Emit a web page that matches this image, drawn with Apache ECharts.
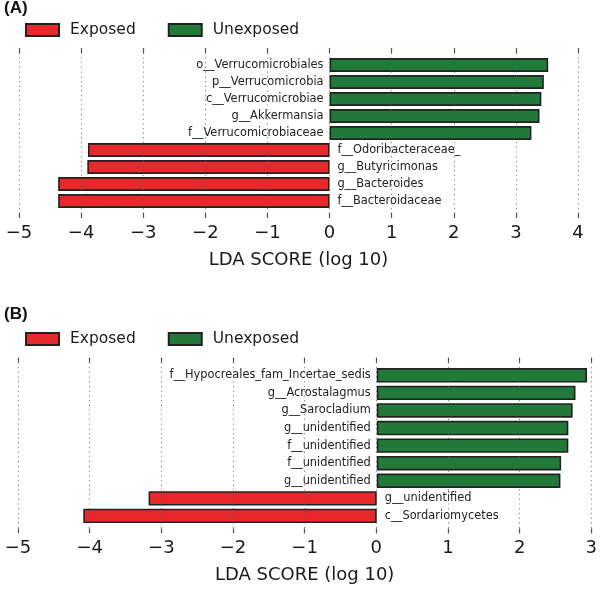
<!DOCTYPE html>
<html>
<head>
<meta charset="utf-8">
<script src="https://cdn.jsdelivr.net/npm/echarts@6/dist/echarts.min.js"></script>
<style>
html,body{margin:0;padding:0;background:#fff;}
#chart{width:600px;height:590px;}
</style>
</head>
<body>
<div id="chart"></div>
<script>
// ---- Data ----
const seriesNames = ['Exposed', 'Unexposed'];

const catA = ['o__Verrucomicrobiales', 'p__Verrucomicrobia', 'c__Verrucomicrobiae', 'g__Akkermansia',
  'f__Verrucomicrobiaceae', 'f__Odoribacteraceae_', 'g__Butyricimonas', 'g__Bacteroides', 'f__Bacteroidaceae'];
const exposedA = ['-', '-', '-', '-', '-', -3.89, -3.90, -4.37, -4.37];
const unexposedA = [3.52, 3.45, 3.41, 3.38, 3.25, '-', '-', '-', '-'];
const ticksA = { min: -5, max: 4, interval: 1 };

const catB = ['f__Hypocreales_fam_Incertae_sedis', 'g__Acrostalagmus', 'g__Sarocladium', 'g__unidentified',
  'f__unidentified', 'f__unidentified', 'g__unidentified', 'g__unidentified', 'c__Sordariomycetes'];
const exposedB = ['-', '-', '-', '-', '-', '-', '-', -3.18, -4.09];
const unexposedB = [2.93, 2.77, 2.73, 2.67, 2.67, 2.57, 2.56, '-', '-'];
const ticksB = { min: -5, max: 3, interval: 1 };

const panelTitles = ['(A)', '(B)'];
const axisName = 'LDA SCORE (log 10)';

// ---- Styles ----
const RED = '#e8292b';
const GREEN = '#21793a';
const BORDER = '#222222';
const FONT = 'DejaVu Sans';

const chart = echarts.init(document.getElementById('chart'), null, { renderer: 'canvas' });

function minusFmt(v) { return String(v).replace('-', '\u2212'); }

const panels = [
  { cats: catA, exp: exposedA, unexp: unexposedA, ticks: ticksA,
    left: 19, right: 22, frameTop: 48, frameH: 170, barTop: 56.5, barH: 153, legendTop: 22, titleTop: 0 },
  { cats: catB, exp: exposedB, unexp: unexposedB, ticks: ticksB,
    left: 18, right: 8, frameTop: 357.7, frameH: 175.6, barTop: 366.5, barH: 158.2, legendTop: 331, titleTop: 306 }
];

const grid = [], xAxis = [], yAxis = [], series = [], legend = [], title = [];

panels.forEach((p, i) => {
  const gFrame = grid.length;
  grid.push({ left: p.left, right: p.right, top: p.frameTop, height: p.frameH, containLabel: false });
  const gBars = grid.length;
  grid.push({ left: p.left, right: p.right, top: p.barTop, height: p.barH, containLabel: false });

  // frame: bottom axis with labels + dotted grid lines
  xAxis.push({
    type: 'value', gridIndex: gFrame, position: 'bottom', min: p.ticks.min, max: p.ticks.max, interval: p.ticks.interval,
    z: 5,
    axisLine: { show: false },
    axisTick: { show: true, inside: true, length: 5, lineStyle: { color: '#555', width: 1.2 } },
    axisLabel: { show: true, margin: 6, fontFamily: FONT, fontSize: 18, color: '#1a1a1a', formatter: minusFmt },
    splitLine: { show: true, lineStyle: { color: 'rgba(95,95,95,0.75)', type: [1.2, 3.5], width: 1.1 } },
    name: axisName, nameLocation: 'middle', nameGap: 33,
    nameTextStyle: { fontFamily: FONT, fontSize: 18, color: '#1a1a1a' }
  });
  // frame: top ticks
  xAxis.push({
    type: 'value', gridIndex: gFrame, position: 'top', min: p.ticks.min, max: p.ticks.max, interval: p.ticks.interval,
    z: 5,
    axisLine: { show: false },
    axisTick: { show: true, inside: true, length: 5, lineStyle: { color: '#555', width: 1.2 } },
    axisLabel: { show: false }, splitLine: { show: false }
  });
  yAxis.push({ type: 'value', gridIndex: gFrame, min: 0, max: 1, show: false });

  // bars grid
  const xBar = xAxis.length;
  xAxis.push({ type: 'value', gridIndex: gBars, min: p.ticks.min, max: p.ticks.max, interval: p.ticks.interval, show: false,
    splitLine: { show: false } });
  const yBar = yAxis.length;
  yAxis.push({ type: 'category', gridIndex: gBars, data: p.cats.map((c, k) => k), inverse: true, show: false,
    axisTick: { show: false }, axisLine: { show: false } });

  const cats = p.cats;
  series.push({
    name: seriesNames[0], type: 'bar', xAxisIndex: xBar, yAxisIndex: yBar, data: p.exp,
    barCategoryGap: '18%', barGap: '-100%',
    itemStyle: { color: RED, borderColor: BORDER, borderWidth: 1.6 },
    label: { show: true, position: 'right', distance: 8, fontFamily: FONT, fontSize: 11.4, color: '#222',
      formatter: (q) => cats[q.dataIndex] }
  });
  series.push({
    name: seriesNames[1], type: 'bar', xAxisIndex: xBar, yAxisIndex: yBar, data: p.unexp,
    barCategoryGap: '18%', barGap: '-100%',
    itemStyle: { color: GREEN, borderColor: BORDER, borderWidth: 1.6 },
    label: { show: true, position: 'left', distance: 6, fontFamily: FONT, fontSize: 11.4, color: '#222',
      formatter: (q) => cats[q.dataIndex] }
  });

  legend.push({
    data: seriesNames, left: 25, top: p.legendTop, padding: 0, itemGap: 32,
    itemWidth: 33, itemHeight: 12, icon: 'rect', selectedMode: false,
    textStyle: { fontFamily: FONT, fontSize: 15.5, color: '#1a1a1a', padding: [0, 0, 0, 6] }
  });
  title.push({ text: panelTitles[i], left: 4, top: p.titleTop, padding: 0,
    textStyle: { fontFamily: 'Liberation Sans', fontWeight: 'bold', fontSize: 17, color: '#111' } });
});

chart.setOption({ animation: false, backgroundColor: '#fff', title, legend, grid, xAxis, yAxis, series });
</script>
</body>
</html>
